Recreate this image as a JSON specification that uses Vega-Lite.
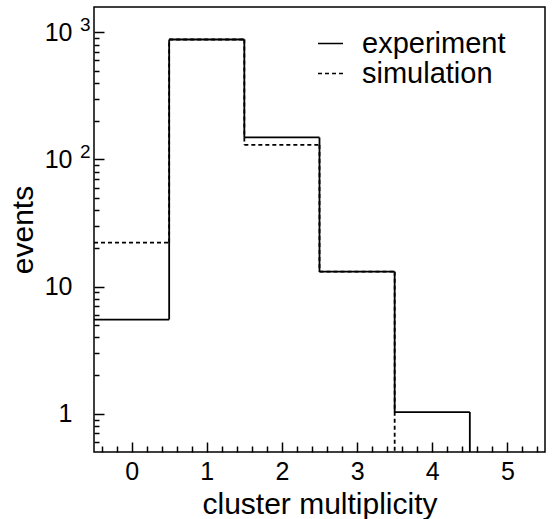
{
  "$schema": "https://vega.github.io/schema/vega-lite/v6.json",
  "autosize": "none",
  "width": 451,
  "height": 445,
  "padding": {"left": 94, "top": 7, "right": 7, "bottom": 67},
  "background": "white",
  "config": {
    "view": {"stroke": "black", "strokeWidth": 1.5},
    "font": "Liberation Sans",
    "axis": {
      "grid": false,
      "domain": false,
      "tickColor": "black",
      "tickWidth": 1.5,
      "labelColor": "black",
      "labelFont": "Liberation Sans",
      "labelFontSize": 25,
      "labelOverlap": false,
      "labelFlush": false,
      "titleColor": "black",
      "titleFont": "Liberation Sans",
      "titleFontSize": 30,
      "titleFontWeight": "normal"
    }
  },
  "datasets": {
    "hist": [
      {"lo": -0.5, "hi": 0.5, "series": "experiment", "events": 5.5},
      {"lo": 0.5, "hi": 1.5, "series": "experiment", "events": 877},
      {"lo": 1.5, "hi": 2.5, "series": "experiment", "events": 149},
      {"lo": 2.5, "hi": 3.5, "series": "experiment", "events": 13.1},
      {"lo": 3.5, "hi": 4.5, "series": "experiment", "events": 1.03},
      {"lo": 4.5, "hi": 5.5, "series": "experiment", "events": 0},
      {"lo": -0.5, "hi": 0.5, "series": "simulation", "events": 22.2},
      {"lo": 0.5, "hi": 1.5, "series": "simulation", "events": 877},
      {"lo": 1.5, "hi": 2.5, "series": "simulation", "events": 130},
      {"lo": 2.5, "hi": 3.5, "series": "simulation", "events": 13.1},
      {"lo": 3.5, "hi": 4.5, "series": "simulation", "events": 0},
      {"lo": 4.5, "hi": 5.5, "series": "simulation", "events": 0}
    ],
    "powers": [
      {"events": 1000, "power": "3"},
      {"events": 100, "power": "2"}
    ]
  },
  "resolve": {"axis": {"x": "independent", "y": "independent"}},
  "layer": [
    {
      "data": {"name": "hist"},
      "transform": [{"filter": "datum.events > 0"}],
      "mark": {"type": "rule", "strokeWidth": 1.8, "color": "black"},
      "encoding": {
        "x": {
          "field": "lo",
          "type": "quantitative",
          "scale": {"domain": [-0.5, 5.5], "nice": false, "zero": false},
          "axis": {
            "orient": "bottom",
            "offset": -10,
            "title": "cluster multiplicity",
            "titleBaseline": "alphabetic",
            "titleY": 71,
            "values": [0, 1, 2, 3, 4, 5],
            "format": "d",
            "tickSize": 10,
            "labelPadding": 7,
            "labelOverlap": false
          }
        },
        "x2": {"field": "hi"},
        "y": {
          "field": "events",
          "type": "quantitative",
          "scale": {"type": "log", "domain": [0.5, 1580], "nice": false, "clamp": true},
          "axis": {
            "orient": "left",
            "offset": -10,
            "title": "events",
            "titleBaseline": "alphabetic",
            "titleX": -72,
            "values": [1, 10, 100, 1000],
            "labelExpr": "datum.value == 1 ? '1' : '10'",
            "tickSize": 10,
            "labelPadding": 22,
            "labelOverlap": false
          }
        },
        "strokeDash": {
          "field": "series",
          "type": "nominal",
          "scale": {"domain": ["experiment", "simulation"], "range": [[1, 0], [4, 3]]},
          "legend": {
            "title": null,
            "orient": "none",
            "legendX": 222,
            "legendY": 22,
            "padding": 0,
            "symbolType": "stroke",
            "symbolSize": 625,
            "symbolStrokeWidth": 1.5,
            "symbolStrokeColor": "black",
            "labelFont": "Liberation Sans",
            "labelFontSize": 29,
            "labelColor": "black",
            "labelOffset": 17,
            "rowPadding": 0,
            "labelLimit": 300
          }
        }
      }
    },
    {
      "data": {"name": "hist"},
      "transform": [
        {"window": [{"op": "lag", "field": "events", "as": "prev"}], "groupby": ["series"], "sort": [{"field": "lo"}]},
        {"filter": "datum.prev != null"}
      ],
      "mark": {"type": "rule", "strokeWidth": 1.8, "color": "black"},
      "encoding": {
        "x": {
          "field": "lo",
          "type": "quantitative",
          "axis": {
            "orient": "bottom",
            "offset": -6,
            "title": null,
            "labels": false,
            "values": [-0.4, -0.2, 0.2, 0.4, 0.6, 0.8, 1.2, 1.4, 1.6, 1.8, 2.2, 2.4, 2.6, 2.8, 3.2, 3.4, 3.6, 3.8, 4.2, 4.4, 4.6, 4.8, 5.2, 5.4],
            "tickSize": 6
          }
        },
        "y": {
          "field": "prev",
          "type": "quantitative",
          "axis": {
            "orient": "left",
            "offset": -5,
            "title": null,
            "labels": false,
            "values": [0.6, 0.7, 0.8, 0.9, 2, 3, 4, 5, 6, 7, 8, 9, 20, 30, 40, 50, 60, 70, 80, 90, 200, 300, 400, 500, 600, 700, 800, 900],
            "tickSize": 5
          }
        },
        "y2": {"field": "events"},
        "strokeDash": {"field": "series", "type": "nominal", "legend": null}
      }
    },
    {
      "data": {"name": "powers"},
      "mark": {"type": "text", "align": "left", "baseline": "middle", "dx": -14, "dy": -7, "fontSize": 19, "font": "Liberation Sans", "color": "black"},
      "encoding": {
        "x": {"datum": -0.5, "axis": null},
        "y": {"field": "events", "type": "quantitative", "axis": null},
        "text": {"field": "power"}
      }
    }
  ]
}
